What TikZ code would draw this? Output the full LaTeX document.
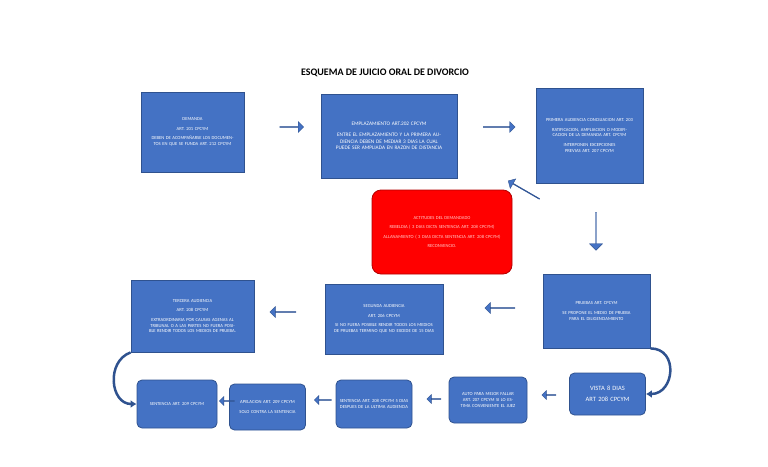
\documentclass[tikz,border=0pt]{standalone}
\usepackage{fontspec}
\setmainfont{Carlito}
\usetikzlibrary{shapes.arrows}
\definecolor{bx}{HTML}{4472C4}
\definecolor{bd}{HTML}{2F528F}
\tikzset{
 box/.style={fill=bx,draw=bd,line width=0.8pt,text=white,font=\fontsize{4.6}{5.6}\selectfont,align=center,inner sep=3pt},
 rbox/.style={box,rounded corners=5pt},
 barr/.style={single arrow,fill=bx,draw=bd,line width=0.4pt,minimum height=#1,minimum width=11pt,single arrow head extend=2.5pt,inner sep=0pt},
 curv/.style={bd,line width=2.5pt,-{Latex[length=6pt,width=8pt]}}
}
\usetikzlibrary{arrows.meta}
\begin{document}
\begin{tikzpicture}[x=1pt,y=-1pt]
\useasboundingbox (0,0) rectangle (768,466);
\node[font=\bfseries\fontsize{10}{12}\selectfont] (t) at (385,73) {ESQUEMA DE JUICIO ORAL DE DIVORCIO};
\node[box,minimum width=103pt,minimum height=80pt,text width=95pt] (dem) at (192.5,132) {DEMANDA\\[4pt]ART. 201 CPCYM\\[4pt]DEBEN DE ACOMPAÑARSE LOS DOCUMENTOS EN QUE SE FUNDA ART. 212 CPCYM};
\node[box,minimum width=136pt,minimum height=84pt,text width=124pt,font=\fontsize{5.3}{6.6}\selectfont] (emp) at (389,136) {EMPLAZAMIENTO ART.202 CPCYM\\[4pt]ENTRE EL EMPLAZAMIENTO Y LA PRIMERA AUDIENCIA DEBEN DE MEDIAR 3 DIAS LA CUAL PUEDE SER AMPLIADA EN RAZON DE DISTANCIA};
\node[box,minimum width=107pt,minimum height=95pt,text width=100pt] (pri) at (589.5,135.5) {PRIMERA AUDIENCIA CONCILIACION ART. 203\\[4pt]RATIFICACION, AMPLIACION O MODIFICACION DE LA DEMANDA ART. CPCYM\\[4pt]INTERPONEN EXCEPCIONES PREVIAS ART. 207 CPCYM};
\node[box,fill=red,draw=red!70!black,text=red!20!white,rounded corners=9pt,minimum width=140pt,minimum height=84pt,text width=128pt] (red) at (442,232) {ACTITUDES DEL DEMANDADO\\[4pt]REBELDIA ( 3 DIAS DICTA SENTENCIA ART. 208 CPCYM)\\[4pt]ALLANAMIENTO ( 3 DIAS DICTA SENTENCIA ART. 208 CPCYM)\\[4pt]RECONVENCIO.};
\node[box,minimum width=107pt,minimum height=74pt,text width=100pt] (pru) at (596.5,311) {PRUEBAS ART. CPCYM\\[4pt]SE PROPONE EL MEDIO DE PRUEBA PARA EL DILIGENCIAMIENTO};
\node[box,minimum width=118pt,minimum height=70pt,text width=110pt] (seg) at (384,319) {SEGUNDA AUDIENCIA\\[4pt]ART. 206 CPCYM\\[4pt]SI NO FUERA POSIBLE RENDIR TODOS LOS MEDIOS DE PRUEBAS TERMINO QUE NO EXCEDE DE 15 DIAS};
\node[box,minimum width=123pt,minimum height=72pt,text width=116pt] (ter) at (192.5,316) {TERCERA AUDIENCIA\\[4pt]ART. 208 CPCYM\\[4pt]EXTRAORDINARIA POR CAUSAS AGENAS AL TRIBUNAL O A LAS PARTES NO FUERA POSIBLE RENDIR TODOS LOS MEDIOS DE PRUEBA.};
\node[rbox,minimum width=75pt,minimum height=42pt,text width=70pt,font=\fontsize{6.5}{8}\selectfont] (vis) at (607.5,394) {VISTA 8 DIAS\\[3pt]ART 208 CPCYM};
\node[rbox,minimum width=78pt,minimum height=46pt,text width=72pt] (aut) at (488,400) {AUTO PARA MEJOR FALLAR ART. 207 CPCYM SI LO ESTIMA CONVENIENTE EL JUEZ};
\node[rbox,minimum width=76pt,minimum height=48pt,text width=70pt] (s208) at (374,404) {SENTENCIA ART. 208 CPCYM 5 DIAS DESPUES DE LA ULTIMA AUDIENCIA};
\node[rbox,minimum width=75pt,minimum height=46pt,text width=70pt] (ape) at (267.5,407) {APELACION ART. 209 CPCYM\\[4pt]SOLO CONTRA LA SENTENCIA};
\node[rbox,minimum width=80pt,minimum height=48pt,text width=74pt] (s209) at (177,404) {SENTENCIA ART. 209 CPCYM};
% block arrows
\node[barr=24pt] (a1) at (291.5,127) {};
\node[barr=32pt] (a2) at (499,127) {};
\node[barr=36pt,rotate=150] (a3) at (524,190) {};
\node[barr=38pt,minimum width=13pt,rotate=-90] (a4) at (596,231) {};
\node[barr=30pt,rotate=180] (a5) at (500,308) {};
\node[barr=26pt,rotate=180] (a6) at (283,312) {};
\node[barr=14pt,minimum width=9pt,rotate=180] (a7) at (549,395) {};
\node[barr=14pt,minimum width=9pt,rotate=180] (a8) at (434,399) {};
\node[barr=17pt,minimum width=9pt,rotate=180] (a9) at (323,400) {};
\node[barr=15pt,minimum width=9pt,rotate=180] (a10) at (227,401) {};
% curved
\draw[curv] (pru.south east) to[out=0,in=0,looseness=1.6] (vis.east);
\draw[curv] (ter.south west) to[out=200,in=180,looseness=1.3] (s209.west);
\end{tikzpicture}
\end{document}
